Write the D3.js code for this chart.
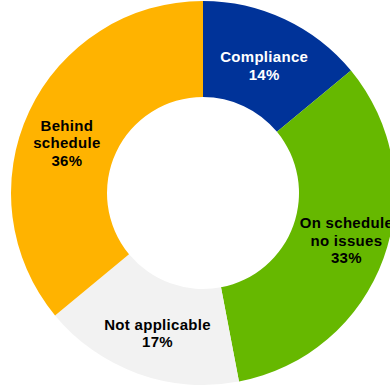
<!DOCTYPE html>
<html>
<head>
<meta charset="utf-8">
<script src="https://cdn.jsdelivr.net/npm/d3@7"></script>
<style>
  html, body { margin: 0; padding: 0; background: #fff; }
  svg { display: block; }
  text { font-family: "Liberation Sans", Arial, sans-serif; font-weight: bold; font-size: 15px; letter-spacing: 0.3px; }
</style>
</head>
<body>
<svg id="chart" width="390" height="389"></svg>
<script>
// Project status breakdown (percent of projects)
const categories = ["Compliance", "On schedule no issues", "Not applicable", "Behind schedule"];
const labelLines = [["Compliance"], ["On schedule", "no issues"], ["Not applicable"], ["Behind", "schedule"]];
const values = [14, 33, 17, 36];
const colors = ["#003399", "#66b800", "#f2f2f2", "#ffb300"];
const textColors = ["#ffffff", "#000000", "#000000", "#000000"];

const width = 390, height = 389;
const cx = 203, cy = 193;
const outerR = 192, innerR = 96;

const svg = d3.select("#chart");
const g = svg.append("g").attr("transform", `translate(${cx},${cy})`);

const pie = d3.pie().sort(null).value(d => d.value);
const data = categories.map((c, i) => ({ name: c, value: values[i], i }));
const arcs = pie(data);

const arc = d3.arc().innerRadius(innerR).outerRadius(outerR);
const labelArc = d3.arc().innerRadius(146).outerRadius(146);

// small per-slice adjustments so the label blocks sit well inside their slices
const labelNudge = {
  "Compliance": [-1, 5],
  "On schedule no issues": [6, -2],
  "Not applicable": [4, 3],
  "Behind schedule": [-4, 12]
};

g.selectAll("path.slice")
  .data(arcs)
  .join("path")
  .attr("class", "slice")
  .attr("d", arc)
  .attr("fill", d => colors[d.data.i]);

const lineH = 17.5;
const labels = g.selectAll("g.label")
  .data(arcs)
  .join("g")
  .attr("class", "label")
  .attr("transform", d => {
    const [x, y] = labelArc.centroid(d);
    const [nx, ny] = labelNudge[d.data.name];
    return `translate(${x + nx},${y + ny})`;
  });

labels.each(function(d) {
  const lines = labelLines[d.data.i].concat([d.data.value + "%"]);
  const t = d3.select(this).append("text")
    .attr("text-anchor", "middle")
    .attr("fill", textColors[d.data.i]);
  const y0 = -((lines.length - 1) * lineH) / 2;
  lines.forEach((ln, k) => {
    t.append("tspan")
      .attr("x", 0)
      .attr("y", y0 + k * lineH)
      .attr("dy", "0.35em")
      .text(ln);
  });
});
</script>
</body>
</html>
